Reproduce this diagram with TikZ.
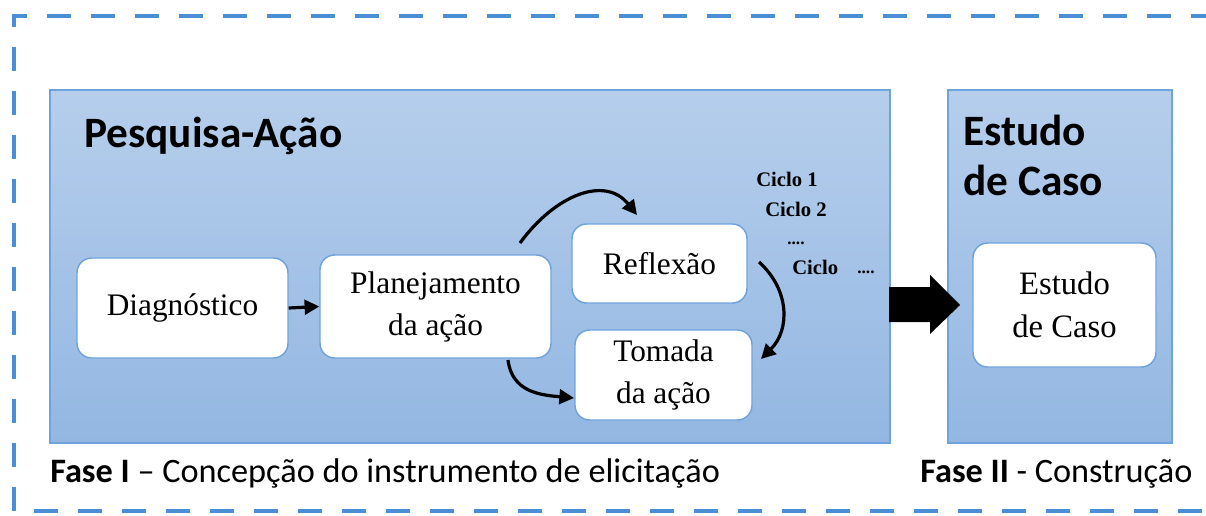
\documentclass[tikz,border=0pt]{standalone}
\usepackage{fontspec}
\setmainfont{Liberation Serif}
\setsansfont{Carlito}
\usetikzlibrary{arrows.meta,calc}
\definecolor{dashblue}{HTML}{4A8ED6}
\definecolor{edgeblue}{HTML}{6FA3DB}
\definecolor{topfill}{HTML}{B6CEEC}
\definecolor{botfill}{HTML}{93B7E2}
\begin{document}
\begin{tikzpicture}[x=0.75pt,y=-0.75pt,
  panel/.style={draw=edgeblue, line width=1.2pt, top color=topfill, bottom color=botfill, inner sep=0pt},
  stepbox/.style={draw=edgeblue, line width=1.1pt, fill=white, rounded corners=11pt, inner sep=0pt, align=center,
     font=\fontsize{23.5}{31.5}\selectfont},
  title/.style={font=\sffamily\bfseries\fontsize{32.5}{37.5}\selectfont, anchor=base west, inner sep=0pt, align=left},
  cyc/.style={font=\bfseries\fontsize{15.5}{18}\selectfont, anchor=base west, inner sep=0pt},
  dots/.style={font=\bfseries\fontsize{13}{14}\selectfont, anchor=base west, inner sep=0pt},
  caption/.style={font=\sffamily\fontsize{25.7}{30}\selectfont, anchor=base west, inner sep=0pt},
  arr/.style={line width=2.4pt, -{Triangle[length=11pt,width=11pt]}},
]
\useasboundingbox (0,0) rectangle (1206,515);
% outer dashed frame
\draw[dashblue, line width=3.6pt, dash pattern=on 18pt off 15pt]
  (1215,16) -- (14,16) -- (14,511) -- (1215,511);
% panels
\node[panel, minimum width=840*0.75pt, minimum height=353*0.75pt] (pa) at (470,266.5) {};
\node[panel, minimum width=224*0.75pt, minimum height=353*0.75pt] (ec) at (1060,266.5) {};
\node[title] (patitle) at (84,147) {Pesquisa-Ação};
\node[title] (ectitle) at (963,195) {Estudo\\de Caso};
% step boxes
\node[stepbox, minimum width=211*0.75pt, minimum height=100*0.75pt] (diag) at (182.5,308) {Diagnóstico};
\node[stepbox, minimum width=231*0.75pt, minimum height=103*0.75pt] (plan) at (435.5,306.5) {Planejamento\\da ação};
\node[stepbox, minimum width=175*0.75pt, minimum height=79*0.75pt] (refl) at (659.5,263.5) {Reflexão};
\node[stepbox, minimum width=177*0.75pt, minimum height=90*0.75pt] (toma) at (663.5,375) {Tomada\\da ação};
\node[stepbox, minimum width=183*0.75pt, minimum height=124*0.75pt, font=\fontsize{24.5}{32}\selectfont] (estu) at (1064.5,305) {Estudo\\de Caso};
% cycle labels
\node[cyc] (c1) at (756,186) {Ciclo 1};
\node[cyc] (c2) at (765,216) {Ciclo 2};
\node[dots] (d1) at (787,244) {....};
\node[cyc] (c3) at (792,274) {Ciclo};
\node[dots] (d2) at (857,273) {....};
% arrows
\draw[arr] (diag.east) -- (plan.west);
\coordinate (a1s) at (520,243);
\coordinate (a1e) at (637,215);
\draw[arr] (a1s) .. controls (555,195) and (605,175) .. (a1e);
\coordinate (a2s) at (508,360);
\coordinate (a2e) at (574,398);
\draw[arr] (a2s) .. controls (512,392) and (540,395) .. (a2e);
\coordinate (a3s) at (759,262);
\coordinate (a3e) at (761,359);
\draw[arr] (a3s) .. controls (790,290) and (790,330) .. (a3e);
% big arrow
\fill[black] (889,287) -- (930,287) -- (930,275) -- (960,305) -- (930,334) -- (930,322) -- (889,322) -- cycle;
% captions
\node[caption] (f1) at (50,482) {\textbf{Fase I} – Concepção do instrumento de elicitação};
\node[caption] (f2) at (920,482) {\textbf{Fase II} - Construção};
\end{tikzpicture}
\end{document}
